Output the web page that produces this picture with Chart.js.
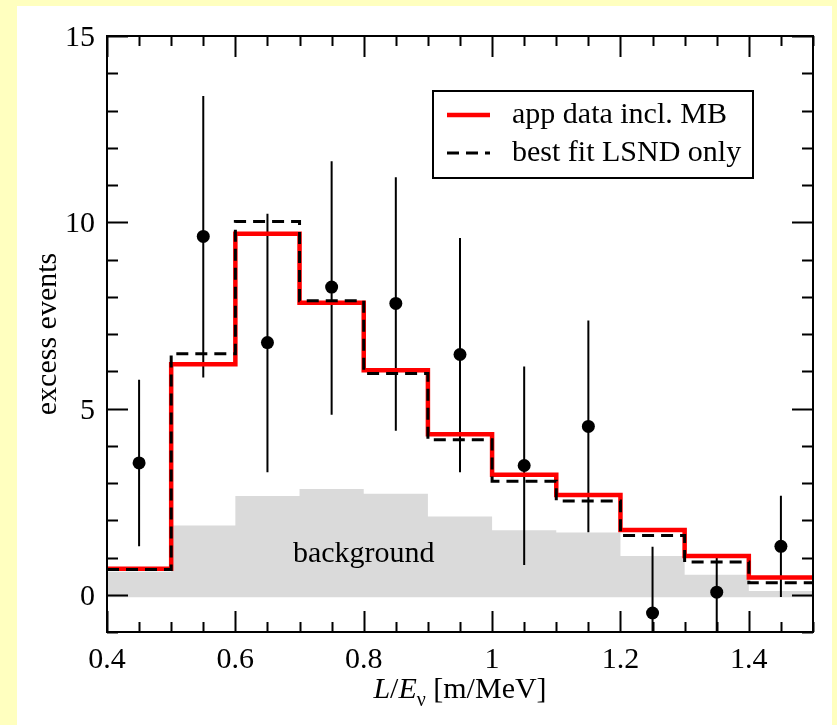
<!DOCTYPE html>
<html>
<head>
<meta charset="utf-8">
<script src="https://cdn.jsdelivr.net/npm/chart.js@4.4.1/dist/chart.umd.min.js"></script>
<style>
  html, body { margin: 0; padding: 0; background: #ffffbf; overflow: hidden; }
  #panel { position: absolute; left: 17px; top: 6px; width: 815px; height: 719px; background: #ffffff; }
  #chart { position: absolute; left: 0; top: 0; }
</style>
</head>
<body>
<div id="panel"></div>
<canvas id="chart" width="837" height="725"></canvas>
<script>
// ─── Data ────────────────────────────────────────────────────────
const binEdges   = [0.4, 0.5, 0.6, 0.7, 0.8, 0.9, 1.0, 1.1, 1.2, 1.3, 1.4, 1.5];
const binCenters = [0.45, 0.55, 0.65, 0.75, 0.85, 0.95, 1.05, 1.15, 1.25, 1.35, 1.45];

const appData    = [0.70, 6.19, 9.69, 7.84, 6.03, 4.31, 3.22, 2.68, 1.74, 1.04, 0.46];
const lsndFit    = [0.68, 6.47, 10.02, 7.89, 5.94, 4.16, 3.05, 2.52, 1.59, 0.88, 0.32];
const background = [0.62, 1.86, 2.65, 2.84, 2.71, 2.10, 1.73, 1.67, 1.04, 0.54, 0.10];

const excess  = [3.54, 9.62, 6.77, 8.26, 7.82, 6.45, 3.47, 4.52, -0.49, 0.07, 1.30];
const errLow  = [1.30, 5.83, 3.29, 4.83, 4.40, 3.29, 0.80, 1.68, -2.27, -1.05, -0.06];
const errHigh = [5.77, 13.39, 10.23, 11.64, 11.21, 9.58, 6.13, 7.36, 1.29, 1.01, 2.66];

const xTickLabels = ["0.4", "0.6", "0.8", "1", "1.2", "1.4"];
const yTickLabels = ["0", "5", "10", "15"];

const legendLabels = ["app data incl. MB", "best fit LSND only"];

// ─── Helpers ─────────────────────────────────────────────────────
const SERIF = '"Liberation Serif", "DejaVu Serif", serif';

// histogram: value of bin i holds from edge i to edge i+1
function stepPoints(values) {
  const pts = values.map((v, i) => ({ x: binEdges[i], y: v }));
  pts.push({ x: binEdges[binEdges.length - 1], y: values[values.length - 1] });
  return pts;
}

function errorBarPoints() {
  const pts = [];
  binCenters.forEach((x, i) => {
    pts.push({ x, y: errLow[i] }, { x, y: errHigh[i] }, { x, y: null });
  });
  return pts;
}

// ─── Frame, inward ticks, labels, legend ─────────────────────────
const framePlugin = {
  id: "frame",
  afterDatasetsDraw(chart) {
    const { ctx, chartArea: a, scales: { x, y } } = chart;
    ctx.save();

    // "background" label inside the gray area
    ctx.fillStyle = "#000";
    ctx.font = "30px " + SERIF;
    ctx.textAlign = "center";
    ctx.textBaseline = "alphabetic";
    ctx.fillText("background", x.getPixelForValue(0.8), y.getPixelForValue(1.15) + 10);

    // frame
    ctx.strokeStyle = "#000";
    ctx.lineWidth = 2;
    ctx.strokeRect(a.left, a.top, a.right - a.left, a.bottom - a.top);

    // x ticks (major 0.2, minor 0.05) on bottom and top
    ctx.beginPath();
    for (let k = 0; k <= 22; k++) {
      const v = 0.4 + k * 0.05;
      const px = Math.round(x.getPixelForValue(v)) + 0.5;
      const len = k % 4 === 0 ? 21 : 10;
      ctx.moveTo(px, a.bottom); ctx.lineTo(px, a.bottom - len);
      ctx.moveTo(px, a.top);    ctx.lineTo(px, a.top + len);
    }
    // y ticks (major 5, minor 1) on left and right
    for (let v = -1; v <= 15; v++) {
      const py = Math.round(y.getPixelForValue(v)) + 0.5;
      const len = v % 5 === 0 ? 21 : 11;
      ctx.moveTo(a.left, py);  ctx.lineTo(a.left + len, py);
      ctx.moveTo(a.right, py); ctx.lineTo(a.right - len, py);
    }
    ctx.stroke();

    // tick labels
    ctx.font = "30px " + SERIF;
    ctx.textAlign = "center";
    xTickLabels.forEach(t => {
      ctx.fillText(t, x.getPixelForValue(parseFloat(t)), a.bottom + 36);
    });
    ctx.textAlign = "right";
    yTickLabels.forEach(t => {
      ctx.fillText(t, a.left - 12, y.getPixelForValue(parseFloat(t)) + 10);
    });

    // y axis title
    ctx.save();
    ctx.translate(56, 334);
    ctx.rotate(-Math.PI / 2);
    ctx.textAlign = "center";
    ctx.fillText("excess events", 0, 0);
    ctx.restore();

    // x axis title: L/E_nu [m/MeV]
    const parts = [
      { t: "L", f: "italic 30px " + SERIF, dy: 0 },
      { t: "/", f: "30px " + SERIF, dy: 0 },
      { t: "E", f: "italic 30px " + SERIF, dy: 0 },
      { t: "\u03bd", f: "20px " + SERIF, dy: 8 },
      { t: " [m/MeV]", f: "30px " + SERIF, dy: 0 },
    ];
    let total = 0;
    parts.forEach(p => { ctx.font = p.f; p.w = ctx.measureText(p.t).width; total += p.w; });
    let cx = (a.left + a.right) / 2 - total / 2;
    ctx.textAlign = "left";
    const base = a.bottom + 66;
    parts.forEach(p => { ctx.font = p.f; ctx.fillText(p.t, cx, base + p.dy); cx += p.w; });

    // legend box
    const lx = a.left + 326, ly = a.top + 55, lw = 320, lh = 87;
    ctx.fillStyle = "#fff";
    ctx.fillRect(lx, ly, lw, lh);
    ctx.lineWidth = 2;
    ctx.strokeStyle = "#000";
    ctx.strokeRect(lx, ly, lw, lh);

    const ds = chart.data.datasets;
    const entries = [ds[1], ds[0]];
    entries.forEach((d, i) => {
      const sy = ly + 24 + i * 38;
      ctx.beginPath();
      ctx.setLineDash(d.borderDash || []);
      ctx.strokeStyle = d.borderColor;
      ctx.lineWidth = d.borderWidth;
      ctx.moveTo(lx + 14, sy);
      ctx.lineTo(lx + 57, sy);
      ctx.stroke();
      ctx.setLineDash([]);
      ctx.fillStyle = "#000";
      ctx.font = "30px " + SERIF;
      ctx.fillText(legendLabels[i], lx + 79, sy + 8);
    });

    ctx.restore();
  },
};

// ─── Chart ───────────────────────────────────────────────────────
new Chart(document.getElementById("chart"), {
  type: "line",
  data: {
    datasets: [
      {
        label: legendLabels[1],
        data: stepPoints(lsndFit),
        stepped: "before",
        borderColor: "#000",
        borderWidth: 3,
        borderDash: [12, 7],
        pointRadius: 0,
        fill: false,
        order: 1,
      },
      {
        label: legendLabels[0],
        data: stepPoints(appData),
        stepped: "before",
        borderColor: "#ff0000",
        borderWidth: 4.5,
        pointRadius: 0,
        fill: false,
        order: 2,
      },
      {
        label: "data",
        data: binCenters.map((x, i) => ({ x, y: excess[i] })),
        showLine: false,
        pointRadius: 6.5,
        pointBackgroundColor: "#000",
        pointBorderColor: "#000",
        pointBorderWidth: 0,
        order: 3,
      },
      {
        label: "errors",
        data: errorBarPoints(),
        borderColor: "#000",
        borderWidth: 2,
        pointRadius: 0,
        spanGaps: false,
        fill: false,
        order: 4,
      },
      {
        label: "background",
        data: stepPoints(background),
        stepped: "before",
        borderWidth: 0,
        borderColor: "rgba(0,0,0,0)",
        backgroundColor: "#dadada",
        pointRadius: 0,
        fill: { value: -0.07 },
        order: 5,
      },
    ],
  },
  options: {
    responsive: false,
    animation: false,
    layout: { padding: { left: 107, top: 36, right: 24, bottom: 93 } },
    plugins: { legend: { display: false }, tooltip: { enabled: false } },
    scales: {
      x: { type: "linear", min: 0.4, max: 1.5, display: false },
      y: { type: "linear", min: -1, max: 15, display: false },
    },
  },
  plugins: [framePlugin],
});
</script>
</body>
</html>
